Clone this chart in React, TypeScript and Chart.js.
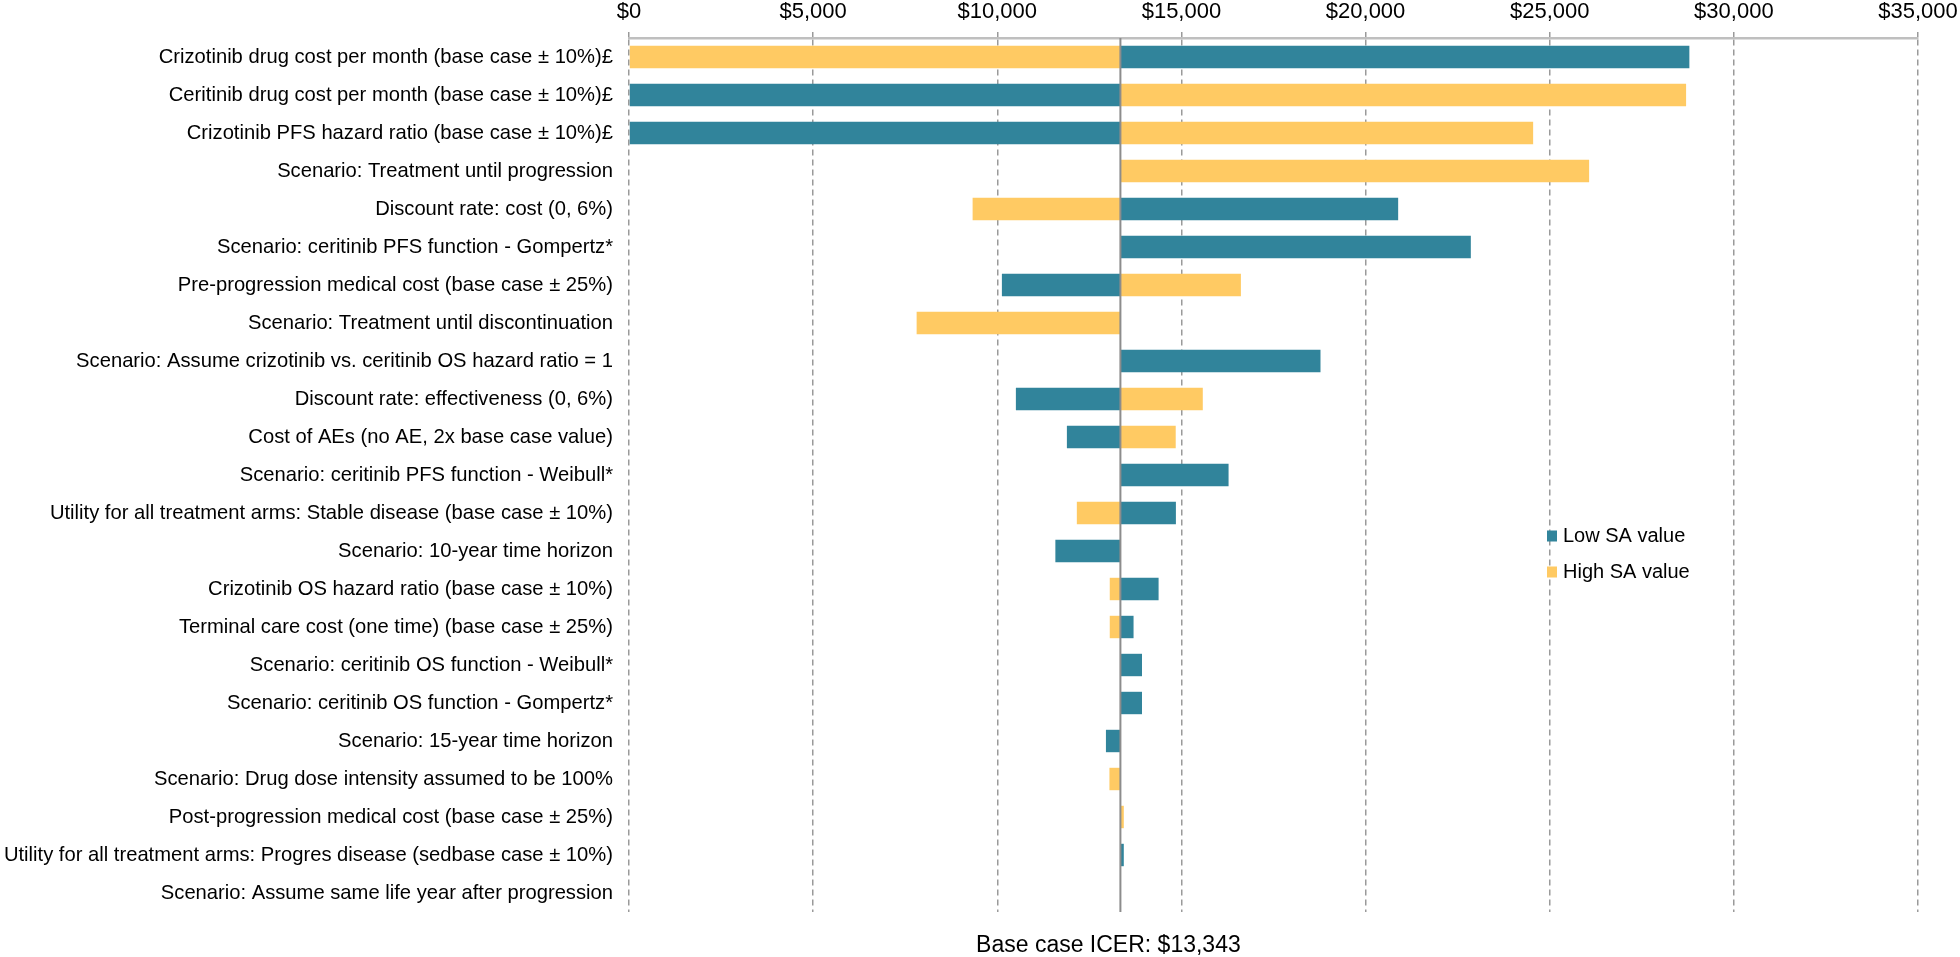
import React, { useEffect, useRef } from "react";
import { Chart, registerables } from "chart.js";

Chart.register(...registerables);

const categories: string[] = [
  "Crizotinib drug cost per month (base case ± 10%)£",
  "Ceritinib drug cost per month (base case ± 10%)£",
  "Crizotinib PFS hazard ratio (base case ± 10%)£",
  "Scenario: Treatment until progression",
  "Discount rate: cost (0, 6%)",
  "Scenario: ceritinib PFS function - Gompertz*",
  "Pre-progression medical cost (base case ± 25%)",
  "Scenario: Treatment until discontinuation",
  "Scenario: Assume crizotinib vs. ceritinib OS hazard ratio = 1",
  "Discount rate: effectiveness (0, 6%)",
  "Cost of AEs (no AE, 2x base case value)",
  "Scenario: ceritinib PFS function - Weibull*",
  "Utility for all treatment arms: Stable disease (base case ± 10%)",
  "Scenario: 10-year time horizon",
  "Crizotinib OS hazard ratio (base case ± 10%)",
  "Terminal care cost (one time) (base case ± 25%)",
  "Scenario: ceritinib OS function - Weibull*",
  "Scenario: ceritinib OS function - Gompertz*",
  "Scenario: 15-year time horizon",
  "Scenario: Drug dose intensity assumed to be 100%",
  "Post-progression medical cost (base case ± 25%)",
  "Utility for all treatment arms: Progres disease (sedbase case ± 10%)",
  "Scenario: Assume same life year after progression",
];

const BASE_ICER = 13343;

const lowValues: (number | null)[] = [
  28792, 0, 0, null, 20885, 22858, 10125, null, 18776, 10505, 11890, 16280,
  14850, 11577, 14380, 13700, 13930, 13930, 12950, null, null, 13435, null,
];

const highValues: (number | null)[] = [
  0, 28703, 24550, 26070, 9330, null, 16615, 7810, null, 15580, 14845, null,
  12160, null, 13054, 13054, null, null, null, 13045, 13435, null, null,
];

const xTicks: number[] = [0, 5000, 10000, 15000, 20000, 25000, 30000, 35000];

const seriesLabels = ["Low SA value", "High SA value"];
const seriesColors = ["#31849B", "#FFCA63"];

const FONT = "'Liberation Sans', Arial, Helvetica, sans-serif";

export default function App() {
  const canvasRef = useRef<HTMLCanvasElement | null>(null);

  useEffect(() => {
    if (!canvasRef.current) return;

    const toRange = (vals: (number | null)[]) =>
      vals.map((v) => (v === null ? null : [BASE_ICER, v]));

    const basePlugin = {
      id: "baseAndLegend",
      afterDatasetsDraw(chart: any) {
        const { ctx, chartArea, scales } = chart;
        const x = scales.x.getPixelForValue(BASE_ICER);
        ctx.save();
        ctx.strokeStyle = "#8c8c8c";
        ctx.lineWidth = 2;
        ctx.beginPath();
        ctx.moveTo(x, chartArea.top);
        ctx.lineTo(x, chartArea.bottom);
        ctx.stroke();

        // base case caption
        ctx.fillStyle = "#000";
        ctx.font = `23px ${FONT}`;
        ctx.textAlign = "center";
        ctx.textBaseline = "middle";
        ctx.fillText(
          "Base case ICER: $" + BASE_ICER.toLocaleString("en-US"),
          x - 12,
          chartArea.bottom + 34
        );

        // legend
        ctx.font = `20px ${FONT}`;
        ctx.textAlign = "left";
        chart.data.datasets.forEach((ds: any, i: number) => {
          const cy = 536 + i * 36;
          ctx.fillStyle = ds.backgroundColor;
          ctx.fillRect(1547, cy - 5.5, 10, 11);
          ctx.fillStyle = "#000";
          ctx.fillText(ds.label, 1563, cy);
        });
        ctx.restore();
      },
    };

    const chart = new Chart(canvasRef.current, {
      type: "bar",
      data: {
        labels: categories,
        datasets: [
          {
            label: seriesLabels[0],
            data: toRange(lowValues) as any,
            backgroundColor: seriesColors[0],
            grouped: false,
            barPercentage: 0.59,
            categoryPercentage: 1,
          },
          {
            label: seriesLabels[1],
            data: toRange(highValues) as any,
            backgroundColor: seriesColors[1],
            grouped: false,
            barPercentage: 0.59,
            categoryPercentage: 1,
          },
        ],
      },
      options: {
        indexAxis: "y",
        responsive: false,
        animation: false,
        layout: { padding: { top: 0, right: 42, bottom: 45, left: 0 } },
        plugins: {
          legend: { display: false },
          tooltip: { enabled: false },
        },
        scales: {
          x: {
            position: "top",
            min: 0,
            max: 35000,
            afterBuildTicks: (scale: any) => {
              scale.ticks = xTicks.map((v) => ({ value: v }));
            },
            afterFit: (scale: any) => {
              scale.height = 38;
              scale.paddingRight = 0;
              scale.paddingLeft = 0;
            },
            ticks: {
              color: "#000",
              font: { family: FONT, size: 22 },
              padding: 7,
              callback: (v: any) => "$" + Number(v).toLocaleString("en-US"),
            },
            grid: {
              color: "#9a9a9a",
              lineWidth: 1.5,
              tickLength: 6,
              tickColor: "#9a9a9a",
              tickWidth: 1.5,
              tickBorderDash: [],
            },
            border: {
              display: true,
              color: "#bfbfbf",
              width: 2.5,
              dash: [6, 4],
            },
          },
          y: {
            position: "left",
            afterFit: (scale: any) => {
              scale.width = 629;
            },
            ticks: {
              color: "#000",
              font: { family: FONT, size: 20.2 },
              padding: 16,
              autoSkip: false,
            },
            grid: { display: false, drawTicks: false },
            border: { display: false },
          },
        },
      },
      plugins: [basePlugin],
    });

    return () => chart.destroy();
  }, []);

  return (
    <div style={{ position: "absolute", left: 0, top: 0, width: 1960, height: 957, background: "#fff" }}>
      <canvas ref={canvasRef} width={1960} height={957} />
    </div>
  );
}
